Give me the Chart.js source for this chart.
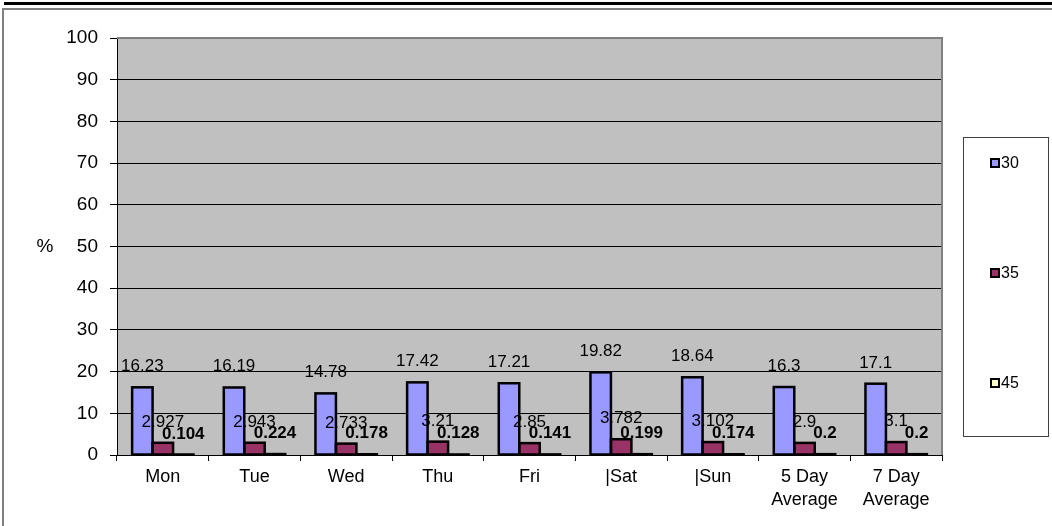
<!DOCTYPE html>
<html>
<head>
<meta charset="utf-8">
<script src="https://cdn.jsdelivr.net/npm/chart.js@4.4.1/dist/chart.umd.min.js"></script>
<style>
  html, body { margin: 0; padding: 0; background: #fff; }
  #wrap { width: 1052px; height: 526px; position: relative; }
</style>
</head>
<body>
<div id="wrap"><canvas id="chart" width="1052" height="526"></canvas></div>
<script>
// Daily percentages for each threshold
const days = ['Mon', 'Tue', 'Wed', 'Thu', 'Fri', '|Sat', '|Sun', ['5 Day', 'Average'], ['7 Day', 'Average']];
const series30 = [16.23, 16.19, 14.78, 17.42, 17.21, 19.82, 18.64, 16.3, 17.1];
const series35 = [2.927, 2.943, 2.733, 3.21, 2.85, 3.782, 3.102, 2.9, 3.1];
const series45 = [0.104, 0.224, 0.178, 0.128, 0.141, 0.199, 0.174, 0.2, 0.2];
const seriesNames = ['30', '35', '45'];
const seriesColors = ['#9999FF', '#993366', '#FFFFCC'];
const yTicks = [0, 10, 20, 30, 40, 50, 60, 70, 80, 90, 100];

const FONT = '"Liberation Sans", Arial, sans-serif';

// page frame, plot background, bar outlines, value labels and legend
const decorations = {
    id: 'decorations',
    beforeDraw(chart) {
        const ctx = chart.ctx;
        const a = chart.chartArea;
        ctx.save();
        ctx.fillStyle = '#000';
        ctx.fillRect(4, 2, chart.width - 4, 3);
        ctx.fillStyle = '#808080';
        ctx.fillRect(2, 8, chart.width - 2, 2);
        ctx.fillRect(2, 8, 2, chart.height - 8);
        ctx.fillStyle = '#C0C0C0';
        ctx.fillRect(a.left, a.top, a.right - a.left, a.bottom - a.top);
        ctx.restore();
    },
    afterDatasetsDraw(chart) {
        const ctx = chart.ctx;
        const a = chart.chartArea;
        ctx.save();
        // outlines round every bar
        ctx.strokeStyle = '#000';
        ctx.lineWidth = 2.5;
        chart.data.datasets.forEach((ds, i) => {
            chart.getDatasetMeta(i).data.forEach(bar => {
                const p = bar.getProps(['x', 'y', 'base', 'width'], true);
                ctx.strokeRect(p.x - p.width / 2, p.y, p.width, p.base - p.y);
            });
        });
        // plot border, top and right
        ctx.fillStyle = '#808080';
        ctx.fillRect(a.left, a.top - 1, a.right - a.left + 1, 2);
        ctx.fillRect(a.right - 1, a.top - 1, 2, a.bottom - a.top + 1);
        // value labels above bars
        ctx.fillStyle = '#000';
        ctx.textAlign = 'center';
        ctx.textBaseline = 'alphabetic';
        chart.data.datasets.forEach((ds, i) => {
            ctx.font = (i === 2 ? 'bold ' : '') + '17px ' + FONT;
            chart.getDatasetMeta(i).data.forEach((bar, j) => {
                const p = bar.getProps(['x', 'y'], true);
                ctx.fillText(String(ds.data[j]), p.x, p.y - 16);
            });
        });
        ctx.restore();
    },
    afterDraw(chart) {
        const ctx = chart.ctx;
        const a = chart.chartArea;
        ctx.save();
        // axis title
        ctx.fillStyle = '#000';
        ctx.font = '19px ' + FONT;
        ctx.textAlign = 'center';
        ctx.textBaseline = 'middle';
        ctx.fillText('%', 45, (a.top + a.bottom) / 2);
        // legend box
        ctx.fillStyle = '#fff';
        ctx.fillRect(963, 137, 86, 300);
        ctx.strokeStyle = '#404040';
        ctx.lineWidth = 1;
        ctx.strokeRect(963.5, 137.5, 85, 299);
        ctx.font = '16px ' + FONT;
        ctx.textAlign = 'left';
        seriesNames.forEach((name, i) => {
            const cy = 163 + i * 110;
            ctx.fillStyle = seriesColors[i];
            ctx.fillRect(991, cy - 4, 8, 8);
            ctx.strokeStyle = '#000';
            ctx.lineWidth = 2;
            ctx.strokeRect(991, cy - 4, 8, 8);
            ctx.fillStyle = '#000';
            ctx.fillText(name, 1001, cy + 1);
        });
        ctx.restore();
    }
};

const datasets = [series30, series35, series45].map((values, i) => ({
    label: seriesNames[i],
    data: values,
    backgroundColor: seriesColors[i],
    borderWidth: 0,
    categoryPercentage: 0.67,
    barPercentage: 1
}));

new Chart(document.getElementById('chart'), {
    type: 'bar',
    data: { labels: days, datasets: datasets },
    options: {
        responsive: false,
        animation: false,
        layout: { padding: { top: 38, right: 110, left: 0, bottom: 0 } },
        plugins: {
            legend: { display: false },
            tooltip: { enabled: false }
        },
        scales: {
            x: {
                afterFit(scale) { scale.height = 71; },
                grid: {
                    offset: true,
                    drawOnChartArea: false,
                    color: '#000',
                    tickLength: 6
                },
                border: { color: '#000', width: 1 },
                ticks: {
                    color: '#000',
                    font: { family: FONT, size: 18, lineHeight: 1.25 },
                    padding: 5,
                    maxRotation: 0,
                    autoSkip: false
                }
            },
            y: {
                min: 0,
                max: 100,
                afterFit(scale) { scale.width = 117; },
                afterBuildTicks(scale) { scale.ticks = yTicks.map(v => ({ value: v })); },
                grid: { color: '#000', tickLength: 7 },
                border: { color: '#000', width: 1 },
                ticks: {
                    color: '#000',
                    font: { family: FONT, size: 19 },
                    padding: 12
                }
            }
        }
    },
    plugins: [decorations]
});
</script>
</body>
</html>
